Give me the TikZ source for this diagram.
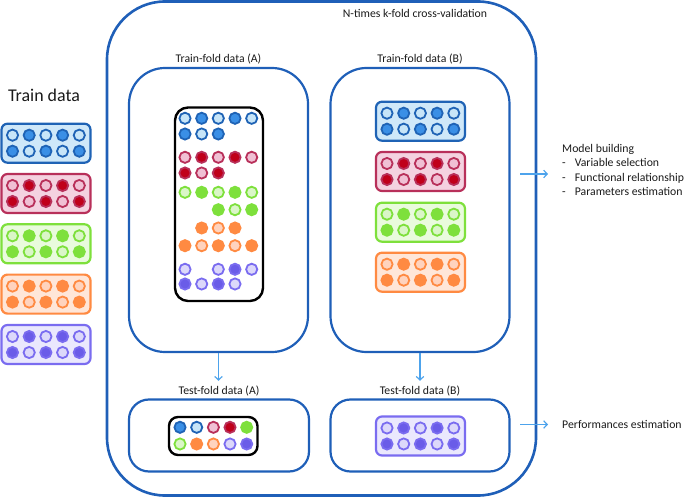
\documentclass[tikz,border=0pt]{standalone}
\usepackage{fontspec}
\setmainfont{Carlito}
\usetikzlibrary{positioning,arrows.meta}

\definecolor{frameblue}{HTML}{1F5FB8}
\definecolor{arrblue}{HTML}{4DA3EC}
\definecolor{txt}{HTML}{1A1A1A}
\definecolor{blueD}{HTML}{1F63B5}
\definecolor{blueM}{HTML}{3A8FE6}
\definecolor{blueL}{HTML}{C7E5F8}
\definecolor{blueB}{HTML}{CFE8F9}
\definecolor{redD}{HTML}{B8305A}
\definecolor{redM}{HTML}{C0001A}
\definecolor{redL}{HTML}{F0C0D4}
\definecolor{redB}{HTML}{F4D2E0}
\definecolor{greenD}{HTML}{7EE03C}
\definecolor{greenM}{HTML}{7EE03C}
\definecolor{greenL}{HTML}{DAF6C8}
\definecolor{greenB}{HTML}{E9FBDD}
\definecolor{orangeD}{HTML}{FF8A42}
\definecolor{orangeM}{HTML}{FF8A42}
\definecolor{orangeL}{HTML}{FFD3BE}
\definecolor{orangeB}{HTML}{FFE6D8}
\definecolor{purpleD}{HTML}{7A6CF0}
\definecolor{purpleM}{HTML}{6A5CE8}
\definecolor{purpleL}{HTML}{DCD8FA}
\definecolor{purpleB}{HTML}{EAE8FD}

\tikzset{
  foldbox/.style={draw=frameblue, line width=2.2bp, rounded corners=36bp, inner sep=0pt},
  testbox/.style={draw=frameblue, line width=2.2bp, rounded corners=20bp, inner sep=0pt},
  lbl/.style={font=\fontsize{11.8}{14.5}\selectfont, text=txt, inner sep=1bp},
  arr/.style={draw=arrblue, line width=1.2bp, -{Straight Barb[length=3.5bp,width=7.5bp]}},
  ball/.style={line width=1.8bp},
}
% hollow and full balls: x, y, colour
\newcommand{\ballH}[3]{\filldraw[ball,fill=#3L,draw=#3D] ({#1},{#2}) circle (5.6bp);}
\newcommand{\ballF}[3]{\filldraw[ball,fill=#3M,draw=#3D] ({#1},{#2}) circle (5.6bp);}
% one fold of ten balls: x, y of top left, colour
\newcommand{\databar}[3]{%
  \draw[fill=#3B,draw=#3D,line width=2.2bp,rounded corners=6bp] (#1,#2) rectangle ++(89,39);
  \foreach \k in {0,2,4}{\ballH{#1+11+16.7*\k}{#2+11.5}{#3}\ballF{#1+11+16.7*\k}{#2+27.5}{#3}}
  \foreach \k in {1,3}{\ballF{#1+11+16.7*\k}{#2+11.5}{#3}\ballH{#1+11+16.7*\k}{#2+27.5}{#3}}
}

\begin{document}
\begin{tikzpicture}[x=1bp,y=-1bp]
\useasboundingbox (0,0) rectangle (685,499);

\node[font=\fontsize{18}{21}\selectfont, text=txt] (traindata) at (44,95) {Train data}; % Train data
\databar{1.5}{123.7}{blue} % Fold.1
\databar{1.5}{174}{red} % Fold.2
\databar{1.5}{224.3}{green} % Fold.3
\databar{1.5}{274.6}{orange} % Fold.4
\databar{1.5}{325}{purple} % Fold.5

\node[draw=frameblue, line width=2.6bp, rounded corners=58bp, minimum width=429bp, minimum height=494bp, inner sep=0pt] (outer) at (321.5,248.5) {}; % CV
\node[lbl] (cvlbl) at (415,13) {N-times k-fold cross-validation};

\node[foldbox, minimum width=179bp, minimum height=284bp] (trainA) at (218.5,210) {}; % TrainFold.A
\node[lbl, above=2bp of trainA] (trainAlbl) {Train-fold data (A)};
\node[foldbox, minimum width=179bp, minimum height=284bp] (trainB) at (420,210) {}; % TrainFold.B
\node[lbl, above=2bp of trainB] (trainBlbl) {Train-fold data (B)};
\node[testbox, minimum width=180bp, minimum height=72bp] (testA) at (219,435.5) {}; % TestFold.A
\node[lbl, above=1bp of testA] (testAlbl) {Test-fold data (A)};
\node[testbox, minimum width=179bp, minimum height=72bp] (testB) at (420,435.5) {}; % TestFold.B
\node[lbl, above=1bp of testB] (testBlbl) {Test-fold data (B)};

% train fold A, mixed
\draw[line width=2.4bp, rounded corners=13bp] (175,107.5) rectangle (263,301); % MixA
\ballH{185}{118.3}{blue} \ballF{201.7}{118.3}{blue} \ballH{218.3}{118.3}{blue} \ballF{235}{118.3}{blue} \ballH{251.7}{118.3}{blue} % row.1
\ballF{185}{134}{blue} \ballH{201.7}{134}{blue} \ballF{218.3}{134}{blue} % row.2
\ballH{185}{157.3}{red} \ballF{201.7}{157.3}{red} \ballH{218.3}{157.3}{red} \ballF{235}{157.3}{red} \ballH{251.7}{157.3}{red} % row.3
\ballF{185}{173}{red} \ballH{201.7}{173}{red} \ballF{218.3}{173}{red} % row.4
\ballH{185}{192.3}{green} \ballF{201.7}{192.3}{green} \ballH{218.3}{192.3}{green} \ballF{235}{192.3}{green} \ballH{251.7}{192.3}{green} % row.5
\ballF{218.3}{209.7}{green} \ballH{235}{209.7}{green} \ballF{251.7}{209.7}{green} % row.6
\ballF{201.7}{228}{orange} \ballH{218.3}{228}{orange} \ballF{235}{228}{orange} % row.7
\ballF{185}{245.7}{orange} \ballH{201.7}{245.7}{orange} \ballF{218.3}{245.7}{orange} \ballH{235}{245.7}{orange} \ballF{251.7}{245.7}{orange} % row.8
\ballH{185}{269.3}{purple} \ballH{218.3}{269.3}{purple} \ballF{235}{269.3}{purple} \ballH{251.7}{269.3}{purple} % row.9
\ballF{185}{284}{purple} \ballH{201.7}{284}{purple} \ballF{218.3}{284}{purple} \ballH{235}{284}{purple} % row.10

% train fold B
\databar{376}{101.7}{blue} % Fold.1
\databar{376}{152}{red} % Fold.2
\databar{376}{202.7}{green} % Fold.3
\databar{376}{252.7}{orange} % Fold.4

% test fold A, mixed
\draw[line width=2.4bp, rounded corners=9bp] (169,417) rectangle (257.5,455); % MixTestA
\ballF{180}{427.3}{blue} \ballH{196.7}{427.3}{blue} \ballH{213.4}{427.3}{red} \ballF{230}{427.3}{red} \ballF{246.7}{427.3}{green} % row.1
\ballH{180}{444}{green} \ballF{196.7}{444}{orange} \ballH{213.4}{444}{orange} \ballH{230}{444}{purple} \ballF{246.7}{444}{purple} % row.2

% test fold B
\databar{376}{416.5}{purple} % Fold.5

\draw[arr, shorten >=4bp] (trainA.south) -- (trainA.south |- testAlbl.north);
\draw[arr, shorten >=4bp] (trainB.south) -- (trainB.south |- testBlbl.north);

\node[lbl, anchor=west] (model) at (561,171) {\begin{tabular}{@{}l@{\hspace{9bp}}l@{}}\multicolumn{2}{@{}l@{}}{Model building}\\ - & Variable selection\\ - & Functional relationship\\ - & Parameters estimation\end{tabular}};
\coordinate (mbStart) at (520,174);
\draw[arr, shorten >=13bp] (mbStart) -- (model.west |- mbStart);

\node[lbl, anchor=west] (perf) at (561,424.5) {Performances estimation};
\coordinate (peStart) at (520,424.5);
\draw[arr, shorten >=13bp] (peStart) -- (perf.west);
\end{tikzpicture}
\end{document}
